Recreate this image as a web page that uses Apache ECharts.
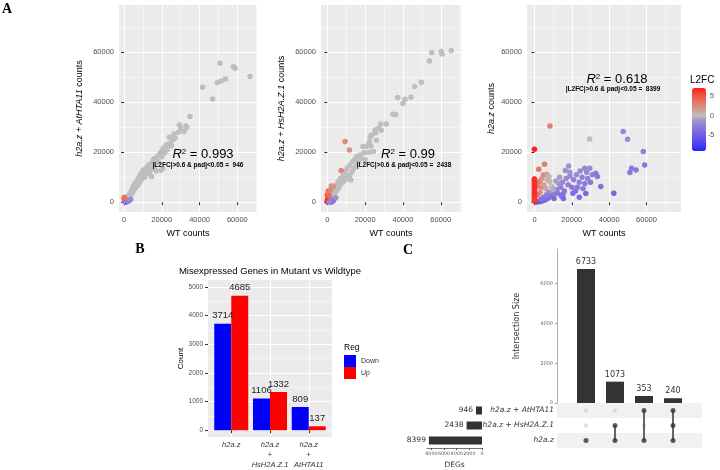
<!DOCTYPE html>
<html>
<head>
<meta charset="utf-8">
<script src="https://cdn.jsdelivr.net/npm/echarts@6/dist/echarts.min.js"></script>
<style>
  html, body { margin: 0; background: #fff; }
  #chart { width: 720px; height: 470px; }
</style>
</head>
<body>
<div id="chart"></div>
<script>
// ---- data ----
// scatter points: [WT counts, mutant counts, L2FC]
const wtVsAtHTA11 = [
  [50800,55600,0],[57900,54300,0],[58800,53600,0],[66700,50300,0],[41600,46000,0],[49400,47900,0],
  [51400,48500,0],[53700,49300,0],[46900,41300,0],[34900,34300,0],[29300,30900,0],[32800,30500,0],
  [33200,30000,0],[31800,28300,0],[28800,28000,0],[26500,27300,0],[26100,26300,0],[25800,24900,0],
  [24400,23600,0],[23500,23200,0],[22200,22800,0],[20800,21600,0],[19900,20300,0],[19100,19600,0],
  [18200,18700,0],[16400,17600,0],[15500,16900,0],[14600,15600,0],[12900,14900,0],[12000,13900,0],
  [10200,12900,0],[9400,11600,0],[8500,10900,0],[7600,9600,0],[6700,8300,0],[5800,7600,0],
  [4900,6300,0],[4100,4900,0],[3200,3600,0],[2300,2300,0],[1400,1300,0],
  [21500,19800,0],[17500,15800,0],[16000,14200,0],[14000,13000,0],[13200,11800,0],[11500,11200,0],
  [11000,10100,0],[10000,9800,0],[9000,8800,0],[8200,8000,0],[7500,7000,0],[6800,6500,0],
  [6000,5600,0],[5200,5000,0],[4500,4000,0],[3800,3200,0],[3000,2700,0],[2000,1700,0],
  [12500,12400,0],[15000,13400,0],[18000,16400,0],[20000,18200,0],[22800,21000,0],[25000,22600,0],
  [27000,25800,0],[30000,29500,0],[24000,26000,0],[9800,10900,0],[8000,9400,0],[6200,7100,0],
  [4000,4500,0],[2800,3000,0],[19500,12800,0],[20500,13500,0],[17000,12500,0],[14600,10300,0],
  [500,300,-3],[1200,200,-3.5],[2000,400,-3],[2800,700,-2.5],[3500,1100,-2],[800,0,-4],
  [1500,800,-2],[300,600,-2.5],[0,1600,5],[300,2000,3.5]
];
const wtVsHsH2AZ1 = [
  [65500,60700,0],[60200,60300,0],[60700,59300,0],[55200,59900,0],[54000,56500,0],[49700,48000,0],
  [46200,46300,0],[44200,42000,0],[41100,41200,0],[40000,39500,0],[37200,41900,0],[36100,35100,0],
  [34700,35200,0],[31200,31300,0],[28300,31300,0],[27100,29600,0],[25300,28900,0],[23500,26900,0],
  [22700,26300,0],[22300,24300,0],[21800,23300,0],[20500,22300,0],[24400,20300,0],[18800,22300,0],
  [17300,18900,0],[15600,18300,0],[14700,17200,0],[13500,16300,0],[12000,14900,0],[10600,13600,0],
  [9400,12300,0],[8500,10900,0],[7100,9600,0],[5800,8300,0],[4600,6900,0],[3200,5600,0],
  [2300,4300,0],[1400,2900,0],[700,1600,0],
  [19500,19800,0],[18000,17500,0],[16500,16000,0],[15500,15000,0],[14000,13500,0],[13000,12200,0],
  [12000,11000,0],[11000,10500,0],[10000,9500,0],[9000,8600,0],[8000,7900,0],[7000,7200,0],
  [6200,6000,0],[5500,5200,0],[4800,4500,0],[4000,3800,0],[3000,2700,0],[2200,1800,0],
  [12500,8900,0],[11500,9500,0],[20000,17000,0],[22000,20000,0],[23000,22500,0],[26000,24800,0],
  [25500,27800,0],[28500,28800,0],
  [9400,24300,2.5],[11700,20900,2],[7300,12700,2.5],[3200,6300,2],[500,4500,4],[0,3000,5],
  [300,1800,5],[0,800,6],[800,3500,3],[1600,5000,2.5],[2200,6500,2],[1000,2600,4],[0,200,6.5],
  [1500,300,-3],[2500,700,-2.5],[3500,1200,-2],[4500,1800,-1.5],[2000,0,-3.5],[3000,400,-3],[1000,100,-2]
];
const wtVsH2az = [
  [29600,25300,0],
  [47500,28300,-2],[49900,25200,-2],[58300,20300,-2.5],[59000,14900,-3],[52000,13600,-3],
  [54400,12900,-3],[51100,11900,-3],[42500,3600,-4.5],[35500,6300,-3.5],[32800,11600,-3],
  [33700,10300,-3],[29600,13600,-2],[26900,13600,-2],[18300,14500,-1.5],[16500,12700,-1.5],
  [15200,3200,-4],[20600,3600,-4],
  [19000,10500,-2],[21000,9000,-2.5],[22500,11000,-2],[24000,8000,-2.5],[25500,10000,-2.5],
  [27000,7500,-3],[28500,9500,-2.5],[30000,8000,-3],[31000,11000,-2.5],[23000,6000,-3],
  [26000,5500,-3],[18000,7000,-2.5],[17000,9500,-2],[15000,8000,-2],[14000,6000,-2.5],
  [12000,5000,-2.5],[13000,7500,-1.5],[11000,4000,-2.5],[10000,3000,-3],[9000,2500,-3],
  [8000,2000,-3.5],[7000,1500,-3.5],[6000,1000,-4],[5000,800,-4],[4000,500,-4.5],[3000,300,-5],
  [2000,200,-5],[1000,100,-5.5],[16000,4500,-3],[20000,6000,-3],[22000,4500,-3.5],[24500,12500,-2],
  [28000,12000,-2],[19000,12000,-1.5],[13500,10000,-1],[11500,8500,-1],[12500,3500,-3],
  [14500,2500,-3.5],[27500,3500,-4],[24000,2000,-4],[9500,6000,-1.5],[7500,4000,-2],
  [6500,3000,-2.5],[5000,2000,-3],[3500,1200,-3.5],[10500,1500,-4],[15500,1500,-4],
  [8300,30500,3],[2300,13200,3.5],[5400,15200,3],[4800,10900,2.5],[6600,11200,1.5],[7700,10300,0.5],
  [8100,8300,0.5],[2700,8300,3],[1500,6500,3.5],[3500,6000,2.5],[5000,7000,1.5],[6000,5500,1],
  [3000,4000,2],[1800,3000,3],[7000,9000,0.5],[4000,9500,2],[9000,6500,0],[10000,5000,-0.5],
  [0,21200,8],[0,9300,7],[0,8300,7],[0,6900,7],[0,5600,7],[0,4300,7],[0,2900,7],[0,1600,7],
  [0,500,7],[0,8800,6.5],[0,7600,6.5],[0,3600,6.5],[0,2200,6.5],[0,1000,6],[0,5000,6.5],[0,6200,6.5]
];
const r2Labels = ['0.993', '0.99', '0.618'];
const degLabels = ['946', '2438', '8399'];

// panel B
const mutants = ['h2a.z', 'h2a.z + HsH2A.Z.1', 'h2a.z + AtHTA11'];
const downCounts = [3714, 1106, 809];
const upCounts = [4685, 1332, 137];

// panel C (sets listed bottom to top)
const setNames = ['h2a.z', 'h2a.z + HsH2A.Z.1', 'h2a.z + AtHTA11'];
const setSizes = [8399, 2438, 946];
const intersectionSizes = [6733, 1073, 353, 240];
const membership = [[0], [0, 1], [0, 2], [0, 1, 2]];

// L2FC colour ramp, one colour per unit from -9 to 7
const l2fcColors = ['#2323FF','#3B35F9','#5043F3','#6150EC','#705DE6','#7E6AE0','#8B78DA','#9987D3',
  '#A999CB','#BEBEBE','#CBA79F','#D69388','#E07F70','#E96B59','#F15542','#F83C2B','#FF1F1F'];

const countTicks = [0, 20000, 40000, 60000];
const countMinor = [10000, 30000, 50000, 70000];
const bTicks = [0, 1000, 2000, 3000, 4000, 5000];
const bMinor = [500, 1500, 2500, 3500, 4500];

// ---- helpers ----
const SANS = 'Liberation Sans';
const UPS = 'DejaVu Sans';
const AX_TXT = '#4D4D4D';
const plain = v => String(v);

function ggMajor(gi, min, max, ticks, fs, margin) {
  return {
    type: 'value', gridIndex: gi, min: min, max: max,
    axisLine: { show: false },
    axisTick: { show: true, length: 3, lineStyle: { color: '#333', width: 1 }, customValues: ticks },
    axisLabel: { customValues: ticks, fontSize: fs, color: AX_TXT, margin: margin, fontFamily: SANS, formatter: plain },
    splitLine: { show: true, lineStyle: { color: '#fff', width: 1 } }
  };
}
function ggMinor(gi, min, max, ticks) {
  return {
    type: 'value', gridIndex: gi, min: min, max: max,
    axisLine: { show: false },
    axisTick: { show: false, customValues: ticks },
    axisLabel: { show: false, customValues: ticks },
    splitLine: { show: true, lineStyle: { color: '#fff', width: 0.5 } }
  };
}
function withName(ax, name, gap) {
  ax.name = name;
  ax.nameLocation = 'middle';
  ax.nameGap = gap;
  ax.nameTextStyle = { fontSize: 9, color: '#000', fontFamily: SANS,
    rich: { i: { fontStyle: 'italic', fontSize: 9, fontFamily: SANS, color: '#000' } } };
  return ax;
}
function text(x, y, str, st) {
  return { type: 'text', x: x, y: y, z: 100, silent: true,
    style: Object.assign({ text: str, fill: '#000', fontFamily: SANS, align: 'center', verticalAlign: 'middle' }, st) };
}
function r2Text(x, y, val) {
  return text(x, y, '{i|R}{s|2}{n| = ' + val + '}', {
    rich: {
      i: { fontStyle: 'italic', fontSize: 13, fontFamily: SANS, fill: '#000' },
      s: { fontSize: 8, fontFamily: SANS, verticalAlign: 'top', fill: '#000' },
      n: { fontSize: 13, fontFamily: SANS, fill: '#000' }
    }
  });
}

// panel A geometry (pixel boxes) and axis ranges
const aGrids = [
  { left: 119, top: 5, width: 138, height: 207 },
  { left: 321, top: 5, width: 140, height: 207 },
  { left: 527, top: 5, width: 154, height: 207 }
];
const aXRange = [[-2650, 70400], [-3330, 70700], [-4000, 78500]];
const aYRange = [-3900, 78900];
const aYNames = ['{i|h2a.z + AtHTA11} counts', '{i|h2a.z + HsH2A.Z.1} counts', '{i|h2a.z} counts'];
const aYGaps = [35, 35, 31];
const aData = [wtVsAtHTA11, wtVsHsH2AZ1, wtVsH2az];

const grids = aGrids.map(g => Object.assign({ show: true, backgroundColor: '#EBEBEB', borderWidth: 0 }, g));
grids.push({ left: 208, top: 280, width: 124, height: 162, show: true, backgroundColor: '#EBEBEB', borderWidth: 0 }); // 3: B
grids.push({ left: 557, top: 249, width: 145, height: 154 }); // 4: intersections
grids.push({ left: 557, top: 403, width: 145, height: 45 });  // 5: matrix
grids.push({ left: 427, top: 403, width: 55, height: 45 });   // 6: set sizes

const xAxes = [], yAxes = [];
for (let i = 0; i < 3; i++) {
  xAxes.push(withName(ggMajor(i, aXRange[i][0], aXRange[i][1], countTicks, 7.5, 4), 'WT counts', 17));
  xAxes.push(ggMinor(i, aXRange[i][0], aXRange[i][1], countMinor));
  yAxes.push(withName(ggMajor(i, aYRange[0], aYRange[1], countTicks, 7.5, 5), aYNames[i], aYGaps[i]));
  yAxes.push(ggMinor(i, aYRange[0], aYRange[1], countMinor));
}
// B axes
const bx = ggMajor(3, 0.4, 3.6, [1, 2, 3], 7.5, 3);
bx.axisLabel.formatter = v => {
  const parts = mutants[Math.round(v) - 1].split(' + ');
  return parts.map(p => '{i|' + p + '}').join('\n{p|+}\n');
};
bx.axisLabel.lineHeight = 10;
bx.axisLabel.rich = {
  i: { fontStyle: 'italic', fontSize: 7.5, color: '#333', fontFamily: SANS, lineHeight: 10 },
  p: { fontSize: 7.5, color: '#333', fontFamily: SANS, lineHeight: 10 }
};
xAxes.push(bx); // 6
const by = withName(ggMajor(3, -236, 5236, bTicks, 6.5, 5), 'Count', 23);
by.nameTextStyle.fontSize = 8;
yAxes.push(by); // 6
yAxes.push(ggMinor(3, -236, 5236, bMinor)); // 7

// C axes
xAxes.push({ type: 'value', gridIndex: 4, min: 0, max: 5, show: false }); // 7
yAxes.push({ // 8
  type: 'value', gridIndex: 4, min: 0, max: 7740,
  name: 'Intersection Size', nameLocation: 'middle', nameGap: 36,
  nameTextStyle: { fontSize: 8, color: '#333', fontFamily: UPS },
  axisLine: { show: true, lineStyle: { color: '#999', width: 0.8 } },
  axisTick: { show: true, length: 2, lineStyle: { color: '#999' }, customValues: [0, 2000, 4000, 6000] },
  axisLabel: { customValues: [0, 2000, 4000, 6000], fontSize: 5, color: '#666', margin: 4, fontFamily: UPS, formatter: plain },
  splitLine: { show: false }
});
xAxes.push({ type: 'value', gridIndex: 5, min: 0, max: 5, show: false }); // 8
yAxes.push({ // 9
  type: 'category', gridIndex: 5, data: setNames,
  axisLine: { show: false }, axisTick: { show: false },
  axisLabel: { fontSize: 7.5, fontStyle: 'italic', color: '#333', margin: 3, fontFamily: UPS },
  splitLine: { show: false },
  splitArea: { show: true, areaStyle: { color: ['#F1F1F1', '#FFFFFF'] } }
});
xAxes.push({ // 9
  type: 'value', gridIndex: 6, min: 0, max: 8700, inverse: true,
  name: 'DEGs', nameLocation: 'middle', nameGap: 13,
  nameTextStyle: { fontSize: 7.5, color: '#333', fontFamily: UPS },
  axisLine: { show: true, lineStyle: { color: '#555', width: 0.8 } },
  axisTick: { show: true, length: 2, lineStyle: { color: '#555' }, customValues: [0, 2000, 4000, 6000, 8000] },
  axisLabel: { customValues: [0, 2000, 4000, 6000, 8000], fontSize: 4.8, color: '#555', margin: 3,
    fontFamily: UPS, hideOverlap: false, formatter: plain },
  splitLine: { show: false }
});
yAxes.push({ type: 'category', gridIndex: 6, data: setNames, show: false }); // 10

// ---- series ----
const series = aData.map((d, i) => ({
  type: 'scatter', xAxisIndex: 2 * i, yAxisIndex: 2 * i, data: d,
  symbolSize: 5.5, itemStyle: { opacity: 1 }, silent: true
}));
series.push({
  name: 'Down', type: 'bar', xAxisIndex: 6, yAxisIndex: 6, barWidth: 17, barGap: '0%',
  itemStyle: { color: '#0000FF' },
  data: downCounts.map((v, i) => [i + 1, v]),
  label: { show: true, position: 'top', distance: 3, fontSize: 9.5, color: '#222', fontFamily: SANS, formatter: p => p.value[1] }
});
series.push({
  name: 'Up', type: 'bar', xAxisIndex: 6, yAxisIndex: 6, barWidth: 17, barGap: '0%',
  itemStyle: { color: '#FF0000' },
  data: upCounts.map((v, i) => [i + 1, v]),
  label: { show: true, position: 'top', distance: 3, fontSize: 9.5, color: '#222', fontFamily: SANS, formatter: p => p.value[1] }
});
series.push({
  type: 'bar', xAxisIndex: 7, yAxisIndex: 8, barWidth: 18,
  itemStyle: { color: '#333333' },
  data: intersectionSizes.map((v, i) => [i + 1, v]),
  label: { show: true, position: 'top', distance: 3, fontSize: 8, color: '#333', fontFamily: UPS, formatter: p => p.value[1] }
});
const allDots = [], onDots = [];
membership.forEach((m, c) => {
  setNames.forEach((s, r) => {
    if (m.indexOf(r) >= 0) onDots.push([c + 1, s]); else allDots.push([c + 1, s]);
  });
  if (m.length > 1) {
    series.push({
      type: 'line', xAxisIndex: 8, yAxisIndex: 9, symbol: 'none', silent: true, z: 3,
      lineStyle: { color: '#333', width: 1.5 },
      data: [[c + 1, setNames[Math.min(...m)]], [c + 1, setNames[Math.max(...m)]]]
    });
  }
});
series.push({ type: 'scatter', xAxisIndex: 8, yAxisIndex: 9, symbolSize: 4.5, silent: true, z: 2,
  itemStyle: { color: '#DADADA' }, data: allDots });
series.push({ type: 'scatter', xAxisIndex: 8, yAxisIndex: 9, symbolSize: 5, silent: true, z: 4,
  itemStyle: { color: '#333333' }, data: onDots });
series.push({
  type: 'bar', xAxisIndex: 9, yAxisIndex: 10, barWidth: 8,
  itemStyle: { color: '#333333' }, data: setSizes,
  label: { show: true, position: 'left', distance: 3, fontSize: 7.5, color: '#333', fontFamily: UPS }
});

// ---- annotations ----
const graphics = [
  text(7, 9, 'A', { fontSize: 14, fontWeight: 'bold', fontFamily: 'Liberation Serif' }),
  text(140, 249, 'B', { fontSize: 14, fontWeight: 'bold', fontFamily: 'Liberation Serif' }),
  text(408, 250, 'C', { fontSize: 14, fontWeight: 'bold', fontFamily: 'Liberation Serif' }),
  r2Text(203, 154, r2Labels[0]), r2Text(408, 154, r2Labels[1]), r2Text(617, 79, r2Labels[2]),
  text(198, 165, '|L2FC|>0.6 & padj<0.05 =  ' + degLabels[0], { fontSize: 6.5, fontWeight: 'bold' }),
  text(404, 165, '|L2FC|>0.6 & padj<0.05 =  ' + degLabels[1], { fontSize: 6.5, fontWeight: 'bold' }),
  text(613, 89, '|L2FC|>0.6 & padj<0.05 =  ' + degLabels[2], { fontSize: 6.5, fontWeight: 'bold' }),
  text(270, 271, 'Misexpressed Genes in Mutant vs Wildtype', { fontSize: 9.5 }),
  text(344, 348, 'Reg', { fontSize: 8.5, align: 'left' }),
  text(690, 80, 'L2FC', { fontSize: 10, align: 'left' }),
  text(710, 96, '5', { fontSize: 7, align: 'left', fill: AX_TXT }),
  text(710, 116, '0', { fontSize: 7, align: 'left', fill: AX_TXT }),
  text(708, 135, '-5', { fontSize: 7, align: 'left', fill: AX_TXT })
];

const chart = echarts.init(document.getElementById('chart'), null, { renderer: 'canvas' });
chart.setOption({
  animation: false,
  backgroundColor: '#fff',
  textStyle: { fontFamily: SANS },
  grid: grids,
  xAxis: xAxes,
  yAxis: yAxes,
  series: series,
  legend: {
    data: ['Down', 'Up'], left: 344, top: 355, orient: 'vertical', padding: 0,
    itemWidth: 12, itemHeight: 12, itemGap: 0, icon: 'rect', selectedMode: false,
    textStyle: { fontSize: 7, color: '#333', fontFamily: SANS }
  },
  visualMap: {
    type: 'continuous', seriesIndex: [0, 1, 2], dimension: 2, min: -9, max: 7,
    left: 692, top: 88, itemWidth: 14, itemHeight: 63, padding: 0,
    calculable: false, hoverLink: false, text: null,
    inRange: { color: l2fcColors }
  },
  graphic: graphics
});
</script>
</body>
</html>
